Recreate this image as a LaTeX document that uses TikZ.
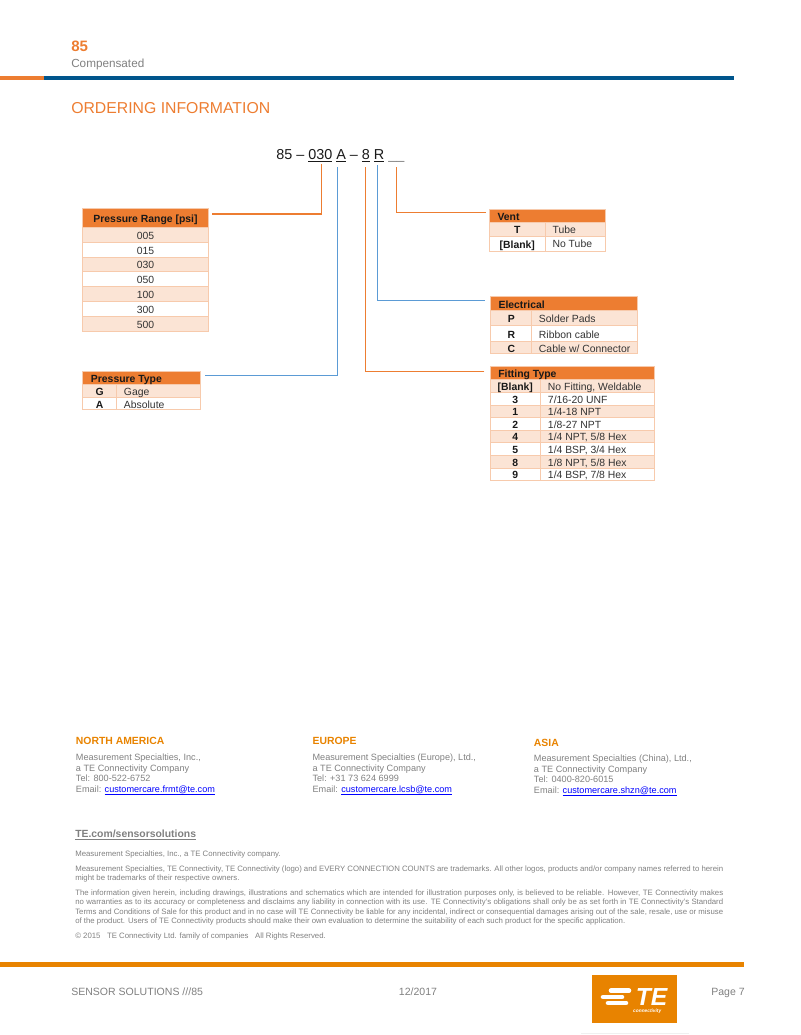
\documentclass[tikz,border=0pt]{standalone}
\usepackage{fontspec}
\setmainfont{Liberation Sans}
\usepackage{xcolor}
\definecolor{acc}{RGB}{237,125,49}
\definecolor{lnk}{RGB}{91,155,213}
\definecolor{tebar}{RGB}{0,85,140}
\definecolor{teorg}{RGB}{232,131,0}
\definecolor{alt}{RGB}{251,228,213}
\definecolor{brd}{RGB}{247,202,172}
\definecolor{gry}{RGB}{128,128,128}
\newcommand{\fineline}[1]{\makebox[486pt][s]{#1}}
\newcommand{\mailto}[1]{\textcolor{blue}{\underline{\smash{#1}}}}
\tikzset{
  txt/.style={inner sep=0pt,anchor=mid west,yshift=-.75pt},
  hdrtxt/.style={txt,font=\fontsize{7.8}{9}\selectfont\bfseries,text=black!90},
  keytxt/.style={inner sep=0pt,anchor=mid,yshift=-.75pt,font=\fontsize{7.8}{9}\selectfont\bfseries,text=black!90},
  valtxt/.style={txt,font=\fontsize{7.8}{9}\selectfont,text=black!80},
  midtxt/.style={inner sep=0pt,anchor=mid,yshift=-.75pt,font=\fontsize{7.8}{9}\selectfont,text=black!80},
  hdrbox/.style={fill=acc,draw=brd,line width=.6pt},
  altbox/.style={fill=alt,draw=brd,line width=.6pt},
  plainbox/.style={fill=white,draw=brd,line width=.6pt},
  colrule/.style={draw=brd,line width=.6pt},
  orgline/.style={draw=acc,line width=1pt},
  blueline/.style={draw=lnk,line width=1pt},
  region/.style={txt,font=\fontsize{7.8}{9}\selectfont\bfseries,text=teorg},
  contact/.style={txt,font=\fontsize{6.85}{8}\selectfont,text=gry},
  fine/.style={txt,font=\fontsize{5.85}{7}\selectfont,text=gry},
  foot/.style={txt,font=\fontsize{7.9}{9}\selectfont,text=gry}
}
\begin{document}
\begin{tikzpicture}[x=.75pt,y=-.75pt]
\useasboundingbox (0,0) rectangle (800,1035);
%% page head
\node[txt,font=\fontsize{11.3}{13}\selectfont\bfseries,text=acc] (prodno) at (71,47) {85};
\node[txt,font=\fontsize{8.8}{10}\selectfont,text=gry] (prodname) at (71,63) {Compensated};
\fill[acc] (0,76) rectangle (43.5,80);
\fill[tebar] (43.5,76) rectangle (734,80);
\node[txt,font=\fontsize{11.85}{14}\selectfont,text=acc] (ordering) at (71,108.5) {ORDERING INFORMATION};
%% part number
\node[inner sep=0pt,anchor=base west,font=\fontsize{10.8}{13}\selectfont,text=black!90] (partcode) at (276,159)
  {85 – \underline{030} \underline{A} – \underline{8} \underline{R} \textcolor{gry}{\_\_}};
%% Pressure Range
\begin{scope}[shift={(82.7,208.7)}]
\draw[hdrbox] (0,0) rectangle (125.6,18.6);
\draw[altbox] (0,18.6) rectangle (125.6,33.4);
\draw[plainbox] (0,33.4) rectangle (125.6,48.2);
\draw[altbox] (0,48.2) rectangle (125.6,63);
\draw[plainbox] (0,63) rectangle (125.6,77.8);
\draw[altbox] (0,77.8) rectangle (125.6,92.6);
\draw[plainbox] (0,92.6) rectangle (125.6,107.4);
\draw[altbox] (0,107.4) rectangle (125.6,122.2);
\node[keytxt] (rnghdr) at (62.8,9.6) {Pressure Range [psi]};
\node[midtxt] (rng005) at (62.8,26) {005};
\node[midtxt] (rng015) at (62.8,40.8) {015};
\node[midtxt] (rng030) at (62.8,55.6) {030};
\node[midtxt] (rng050) at (62.8,70.4) {050};
\node[midtxt] (rng100) at (62.8,85.2) {100};
\node[midtxt] (rng300) at (62.8,100) {300};
\node[midtxt] (rng500) at (62.8,114.8) {500};
\end{scope}
%% Pressure Type
\begin{scope}[shift={(82.7,371.3)}]
\draw[hdrbox] (0,0) rectangle (118,13);
\draw[altbox] (0,13) rectangle (118,25.7);
\draw[plainbox] (0,25.7) rectangle (118,38.4);
\draw[colrule] (34,13) -- (34,38.4);
\node[hdrtxt] (typhdr) at (8,6.8) {Pressure Type};
\node[keytxt] (typg) at (17,19.6) {G};
\node[keytxt] (typa) at (17,32.3) {A};
\node[valtxt] (typgage) at (41,19.6) {Gage};
\node[valtxt] (typabs) at (41,32.3) {Absolute};
\end{scope}
%% Vent
\begin{scope}[shift={(489.3,209)}]
\draw[hdrbox] (0,0) rectangle (116,13.3);
\draw[altbox] (0,13.3) rectangle (116,27.3);
\draw[plainbox] (0,27.3) rectangle (116,42);
\draw[colrule] (55.7,13.3) -- (55.7,42);
\node[hdrtxt] (venthdr) at (8,6.9) {Vent};
\node[keytxt] (ventt) at (28,20.4) {T};
\node[keytxt] (ventb) at (28,34.8) {[Blank]};
\node[valtxt] (venttube) at (63,19.8) {Tube};
\node[valtxt] (ventno) at (63,34) {No Tube};
\end{scope}
%% Electrical
\begin{scope}[shift={(490.3,296.7)}]
\draw[hdrbox] (0,0) rectangle (147.4,13.3);
\draw[altbox] (0,13.3) rectangle (147.4,28.3);
\draw[plainbox] (0,28.3) rectangle (147.4,44.3);
\draw[altbox] (0,44.3) rectangle (147.4,57);
\draw[colrule] (41.4,13.3) -- (41.4,57);
\node[hdrtxt] (elechdr) at (8,7) {Electrical};
\node[keytxt] (elecp) at (21,21) {P};
\node[keytxt] (elecr) at (21,37) {R};
\node[keytxt] (elecc) at (21,51) {C};
\node[valtxt] (elecpads) at (48.4,21) {Solder Pads};
\node[valtxt] (elecrib) at (48.4,37) {Ribbon cable};
\node[valtxt] (eleccon) at (48.4,51) {Cable w/ Connector};
\end{scope}
%% Fitting Type
\begin{scope}[shift={(490.3,366)}]
\draw[hdrbox] (0,0) rectangle (164,13.7);
\draw[altbox] (0,13.7) rectangle (164,26.3);
\draw[plainbox] (0,26.3) rectangle (164,38.9);
\draw[altbox] (0,38.9) rectangle (164,51.5);
\draw[plainbox] (0,51.5) rectangle (164,64.1);
\draw[altbox] (0,64.1) rectangle (164,76.7);
\draw[plainbox] (0,76.7) rectangle (164,89.3);
\draw[altbox] (0,89.3) rectangle (164,101.9);
\draw[plainbox] (0,101.9) rectangle (164,114.7);
\draw[colrule] (50,13.7) -- (50,114.7);
\node[hdrtxt] (fithdr) at (7.7,7) {Fitting Type};
\node[keytxt] (fitb) at (25,20) {[Blank]};
\node[keytxt] (fit3) at (25,32.6) {3};
\node[keytxt] (fit1) at (25,45.2) {1};
\node[keytxt] (fit2) at (25,57.8) {2};
\node[keytxt] (fit4) at (25,70.4) {4};
\node[keytxt] (fit5) at (25,83) {5};
\node[keytxt] (fit8) at (25,95.6) {8};
\node[keytxt] (fit9) at (25,108.2) {9};
\node[valtxt] (fitweld) at (57.4,20) {No Fitting, Weldable};
\node[valtxt] (fitunf) at (57.4,32.6) {7/16-20 UNF};
\node[valtxt] (fitnpta) at (57.4,45.2) {1/4-18 NPT};
\node[valtxt] (fitnptb) at (57.4,57.8) {1/8-27 NPT};
\node[valtxt] (fithexa) at (57.4,70.4) {1/4 NPT, 5/8 Hex};
\node[valtxt] (fithexb) at (57.4,83) {1/4 BSP, 3/4 Hex};
\node[valtxt] (fithexc) at (57.4,95.6) {1/8 NPT, 5/8 Hex};
\node[valtxt] (fithexd) at (57.4,108.2) {1/4 BSP, 7/8 Hex};
\end{scope}
%% leaders from the tables up to the part number
\coordinate (rngout) at (212,214);
\coordinate (rngup) at (321.7,164.3);
\coordinate (typout) at (205.3,375.3);
\coordinate (typup) at (337.7,167.3);
\coordinate (fitout) at (484.3,371.7);
\coordinate (fitup) at (365.3,166.7);
\coordinate (elecout) at (484.7,300.3);
\coordinate (elecup) at (377.7,165.3);
\coordinate (ventout) at (485.7,212.7);
\coordinate (ventup) at (396.7,166.7);
\draw[orgline] (rngout) -| (rngup);
\draw[blueline] (typout) -| (typup);
\draw[orgline] (fitout) -| (fitup);
\draw[blueline] (elecout) -| (elecup);
\draw[orgline] (ventout) -| (ventup);
%% contacts
\node[region] (na) at (75.7,740.3) {NORTH AMERICA};
\node[contact] (naa) at (75.7,756.3) {Measurement Specialties, Inc.,};
\node[contact] (nab) at (75.7,767) {a TE Connectivity Company};
\node[contact] (nac) at (75.7,777) {Tel: 800-522-6752};
\node[contact] (nad) at (75.7,788) {Email: \mailto{customercare.frmt@te.com}};
\node[region] (eu) at (312.3,740.3) {EUROPE};
\node[contact] (eua) at (312.3,756.3) {Measurement Specialties (Europe), Ltd.,};
\node[contact] (eub) at (312.3,767) {a TE Connectivity Company};
\node[contact] (euc) at (312.3,777) {Tel: +31 73 624 6999};
\node[contact] (eud) at (312.3,788) {Email: \mailto{customercare.lcsb@te.com}};
\node[region] (as) at (533.7,741.7) {ASIA};
\node[contact] (asa) at (533.7,757.3) {Measurement Specialties (China), Ltd.,};
\node[contact] (asb) at (533.7,768) {a TE Connectivity Company};
\node[contact] (asc) at (533.7,778) {Tel: 0400-820-6015};
\node[contact] (asd) at (533.7,789) {Email: \mailto{customercare.shzn@te.com}};
%% small print
\node[txt,font=\fontsize{7.8}{9}\selectfont\bfseries,text=gry] (website) at (75,832.7) {\underline{TE.com/sensorsolutions}};
\node[fine] (finea) at (75,852) {Measurement Specialties, Inc., a TE Connectivity company.};
\node[fine] (fineb) at (75,866.7) {\fineline{Measurement Specialties, TE Connectivity, TE Connectivity (logo) and EVERY CONNECTION COUNTS are trademarks. All other logos, products and/or company names referred to herein}};
\node[fine] (finec) at (75,876) {might be trademarks of their respective owners.};
\node[fine] (fined) at (75,890.7) {\fineline{The information given herein, including drawings, illustrations and schematics which are intended for illustration purposes only, is believed to be reliable. However, TE Connectivity makes}};
\node[fine] (finee) at (75,900.3) {\fineline{no warranties as to its accuracy or completeness and disclaims any liability in connection with its use. TE Connectivity's obligations shall only be as set forth in TE Connectivity's Standard}};
\node[fine] (finef) at (75,909.7) {\fineline{Terms and Conditions of Sale for this product and in no case will TE Connectivity be liable for any incidental, indirect or consequential damages arising out of the sale, resale, use or misuse}};
\node[fine] (fineg) at (75,919.3) {of the product. Users of TE Connectivity products should make their own evaluation to determine the suitability of each such product for the specific application.};
\node[fine] (fineh) at (75,934) {© 2015 \ \ TE Connectivity Ltd. family of companies \ \ All Rights Reserved.};
%% page foot
\fill[teorg] (0,962.3) rectangle (744,966.5);
\node[foot] (footl) at (71,991) {SENSOR SOLUTIONS ///85};
\node[foot,anchor=mid] (footm) at (418,991) {12/2017};
\node[foot,anchor=mid east] (footr) at (745,991) {Page 7};
%% logo
\fill[teorg] (592.3,974.7) rectangle (677.3,1022.7);
\draw[white,line width=3.4pt,line cap=round] (611,990.7) -- (629,990.7);
\draw[white,line width=3.4pt,line cap=round] (603,997) -- (622,997);
\draw[white,line width=3.4pt,line cap=round] (608,1003) -- (626,1003);
\node[inner sep=0pt,anchor=base west,font=\fontsize{18.5}{20}\selectfont\bfseries\itshape,text=white] (logote) at (635.5,1005.7) {TE};
\node[inner sep=0pt,anchor=base east,font=\fontsize{3.6}{4}\selectfont\bfseries\itshape,text=white] (logoname) at (661.5,1012) {connectivity};
\fill[black!6] (581,1033) rectangle (689,1034.2);
\end{tikzpicture}
\end{document}
